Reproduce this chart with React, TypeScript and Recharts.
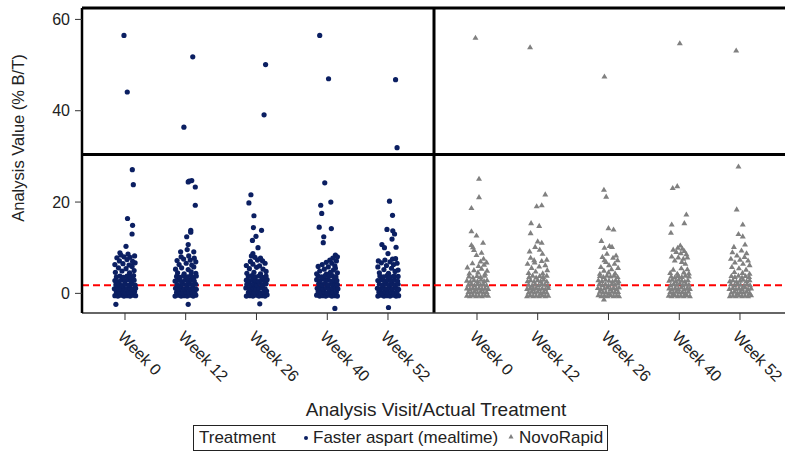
import { ReferenceLine, Scatter, ScatterChart, XAxis, YAxis } from "recharts";

// visits and labels
const weeks = [0, 12, 26, 40, 52];
const weekLabels = ["Week 0", "Week 12", "Week 26", "Week 40", "Week 52"];
const yTicks = [0, 20, 40, 60];
const lloqLine = 1.8;
const panelBreak = 30.4;

// [jitter (weeks), value (% B/T)] per visit, Faster aspart
const fa0 = [
  [-0.2, 56.5], [0.45, 44.1], [1.45, 27.1], [1.65, 23.8], [0.5, 16.4], [1.5, 14.9], [1.4, 13.0], [0.2, 10.3], [-1.0, 8.9], [-1.8, -2.4],
  [-1.9, 4.6], [-0.6, 4.9], [0.9, 4.5], [1.8, 5.0], [-1.3, 5.6], [0.2, 5.4], [1.4, 5.9], [-2.0, 6.3], [-0.4, 6.5], [0.8, 6.2],
  [2.0, 6.7], [-1.1, 7.1], [0.4, 7.4], [1.5, 7.0], [-1.6, 7.8], [-0.2, 8.0], [1.0, 7.9], [1.9, 8.2], [-0.8, 8.4], [0.6, 8.6],
  [-2.0, -0.5], [-1.4, -0.6], [-0.8, -0.4], [-0.2, -0.6], [0.4, -0.5], [1.0, -0.6], [1.6, -0.4], [2.1, -0.5],
  [-1.7, 0.3], [-1.1, 0.2], [-0.5, 0.4], [0.1, 0.1], [0.7, 0.3], [1.3, 0.2], [1.9, 0.4],
  [-2.1, 1.0], [-1.4, 1.2], [-0.8, 0.9], [-0.2, 1.1], [0.4, 1.0], [1.0, 1.2], [1.6, 0.9], [2.1, 1.1],
  [-1.8, 1.9], [-1.1, 2.0], [-0.5, 1.7], [0.1, 2.0], [0.8, 1.8], [1.4, 2.1], [2.0, 1.8],
  [-2.0, 2.8], [-1.4, 2.6], [-0.7, 2.9], [0.0, 2.7], [0.6, 3.0], [1.2, 2.7], [1.8, 2.9],
  [-1.7, 3.6], [-1.0, 3.8], [-0.3, 3.5], [0.4, 3.8], [1.1, 3.6], [1.7, 3.9],
];
const fa12 = [
  [-0.35, 36.4], [1.4, 51.8], [0.7, 24.6], [1.2, 24.7], [0.5, 24.4], [1.9, 23.3], [1.9, 19.3], [1.0, 13.8], [1.0, 13.4], [0.2, 12.4],
  [0.5, 10.7], [0.3, 9.6], [-1.0, 9.1], [1.6, 9.1], [0.5, -2.4],
  [-1.6, 4.5], [-0.3, 4.3], [1.1, 4.7], [2.0, 4.4], [-2.0, 5.3], [-0.8, 5.6], [0.5, 5.2], [1.6, 5.8], [-1.3, 6.3], [0.1, 6.6],
  [1.2, 6.2], [2.0, 6.9], [-1.7, 7.2], [-0.4, 7.5], [0.9, 7.3], [1.7, 7.7], [-0.9, 8.0], [0.6, 8.2],
  [-2.1, -0.6], [-1.5, -0.4], [-0.9, -0.6], [-0.3, -0.5], [0.3, -0.6], [0.9, -0.4], [1.5, -0.6], [2.0, -0.4],
  [-1.8, 0.2], [-1.2, 0.4], [-0.6, 0.1], [0.0, 0.3], [0.6, 0.2], [1.2, 0.4], [1.8, 0.1],
  [-2.0, 1.1], [-1.5, 0.9], [-0.9, 1.2], [-0.3, 0.9], [0.3, 1.2], [0.9, 1.0], [1.5, 1.1], [2.1, 0.9],
  [-1.7, 1.9], [-1.1, 1.7], [-0.5, 2.0], [0.2, 1.8], [0.8, 2.1], [1.4, 1.8], [2.0, 2.0],
  [-2.1, 2.7], [-1.4, 2.9], [-0.8, 2.6], [-0.1, 2.9], [0.5, 2.7], [1.1, 3.0], [1.7, 2.7],
  [-1.8, 3.7], [-1.1, 3.5], [-0.4, 3.9], [0.3, 3.6], [1.0, 3.9], [1.6, 3.5], [2.1, 3.8],
];
const fa26 = [
  [1.8, 50.1], [1.5, 39.1], [-1.1, 21.6], [-1.5, 19.8], [-0.5, 17.0], [-0.6, 14.4], [1.0, 13.8], [-0.1, 12.5], [-0.8, 11.6], [0.3, 10.0],
  [-0.7, 8.7], [-1.0, 8.2], [0.65, -2.3],
  [-1.9, 4.4], [-0.5, 4.6], [0.8, 4.3], [1.9, 4.8], [-1.4, 5.4], [0.0, 5.7], [1.3, 5.3], [-2.0, 6.1], [-0.7, 6.4], [0.6, 6.0],
  [1.7, 6.6], [-1.2, 7.0], [0.2, 7.3], [1.2, 7.1], [-0.3, 7.9], [0.8, 7.7],
  [-2.0, -0.6], [-1.3, -0.5], [-0.7, -0.6], [-0.1, -0.4], [0.5, -0.6], [1.1, -0.5], [1.7, -0.6], [2.1, -0.3],
  [-1.6, 0.2], [-1.0, 0.4], [-0.4, 0.2], [0.2, 0.4], [0.8, 0.1], [1.4, 0.3], [2.0, 0.5],
  [-2.1, 1.2], [-1.3, 1.0], [-0.7, 1.3], [-0.1, 0.9], [0.5, 1.1], [1.1, 1.3], [1.7, 1.0],
  [-1.9, 2.0], [-1.2, 1.8], [-0.6, 2.1], [0.0, 1.9], [0.6, 2.2], [1.2, 1.8], [1.9, 2.1],
  [-2.0, 2.9], [-1.4, 2.7], [-0.8, 3.0], [-0.2, 2.8], [0.4, 2.6], [1.0, 2.9], [1.6, 2.7], [2.1, 3.0],
  [-1.6, 3.7], [-0.9, 3.9], [-0.2, 3.6], [0.5, 3.8], [1.2, 3.5], [1.9, 3.8],
];
const fa40 = [
  [-1.5, 56.5], [0.25, 47.0], [-0.5, 24.2], [-1.3, 19.3], [0.7, 20.0], [-1.1, 17.5], [-1.6, 14.5], [0.8, 14.2], [-0.7, 12.4], [-0.8, 11.1],
  [1.5, -3.3],
  [1.6, 8.4], [2.0, 8.0], [1.1, 7.7], [0.5, 7.3], [1.8, 7.1], [-0.2, 6.8], [0.9, 6.6], [-1.0, 6.3], [1.5, 6.0], [-1.8, 5.9],
  [0.2, 5.8], [-0.6, 5.3], [1.2, 5.1], [-1.5, 4.9], [0.6, 4.6], [2.0, 4.5], [-2.1, 4.3], [-0.2, 4.2], [1.6, 5.5],
  [-2.1, -0.4], [-1.5, -0.6], [-0.9, -0.5], [-0.3, -0.6], [0.3, -0.4], [0.9, -0.6], [1.5, -0.5], [2.0, -0.6],
  [-1.8, 0.4], [-1.2, 0.2], [-0.6, 0.3], [0.0, 0.1], [0.6, 0.4], [1.2, 0.2], [1.8, 0.3],
  [-2.0, 1.1], [-1.4, 1.3], [-0.8, 1.0], [-0.2, 1.2], [0.4, 0.9], [1.0, 1.1], [1.6, 1.3], [2.1, 1.0],
  [-1.7, 2.1], [-1.0, 1.9], [-0.4, 2.2], [0.2, 1.8], [0.9, 2.0], [1.5, 2.2], [2.0, 1.9],
  [-2.1, 3.0], [-1.4, 2.8], [-0.6, 3.1], [0.1, 2.9], [0.8, 2.7], [1.4, 3.0], [1.9, 2.8],
  [-1.8, 3.8], [-1.1, 3.6], [-0.4, 3.9], [0.3, 3.7], [1.0, 3.9], [1.7, 3.6],
];
const fa52 = [
  [1.5, 46.8], [1.8, 31.9], [0.3, 20.2], [0.9, 17.1], [-0.2, 14.0], [0.95, 13.7], [1.3, 13.0], [0.8, 11.9], [-1.2, 10.7], [-0.7, 10.0],
  [1.6, 10.1], [0.0, 8.7], [0.1, -3.1],
  [-1.7, 4.5], [0.1, 4.4], [1.4, 4.8], [-0.8, 5.2], [0.7, 5.5], [2.0, 5.1], [-2.0, 5.8], [-0.3, 6.1], [1.1, 6.3], [-1.3, 6.7],
  [0.4, 6.9], [1.8, 6.6], [-0.6, 7.3], [0.9, 7.5], [-1.9, 7.1], [1.5, 7.6],
  [-2.0, -0.6], [-1.4, -0.4], [-0.8, -0.6], [-0.2, -0.5], [0.4, -0.6], [1.0, -0.4], [1.6, -0.6], [2.1, -0.5],
  [-1.8, 0.3], [-1.2, 0.1], [-0.6, 0.4], [0.0, 0.2], [0.6, 0.3], [1.2, 0.1], [1.8, 0.4],
  [-2.1, 1.1], [-1.5, 0.9], [-0.9, 1.2], [-0.3, 1.0], [0.3, 1.3], [0.9, 1.0], [1.5, 1.2], [2.1, 0.9],
  [-1.7, 2.0], [-1.1, 1.8], [-0.4, 2.1], [0.2, 1.9], [0.8, 2.1], [1.4, 1.8], [2.0, 2.0],
  [-2.0, 2.8], [-1.3, 3.0], [-0.7, 2.7], [0.0, 3.0], [0.6, 2.8], [1.3, 2.9], [1.9, 2.7],
  [-1.6, 3.8], [-0.9, 3.6], [-0.2, 3.9], [0.5, 3.6], [1.2, 3.8], [2.0, 3.7],
];

// NovoRapid
const nr0 = [
  [-0.3, 56.0], [0.4, 25.1], [0.4, 21.1], [-1.1, 18.7], [-1.1, 13.6], [-0.1, 12.7], [1.2, 11.1], [-1.1, 10.6], [-0.8, 10.1], [-0.6, 9.5],
  [-0.1, 8.4], [1.3, 7.6], [0.9, 8.9],
  [-1.5, 4.4], [0.2, 4.6], [1.6, 4.3], [-0.6, 5.1], [0.9, 5.4], [2.0, 5.0], [-1.9, 5.7], [0.3, 6.0], [1.4, 6.3], [-0.9, 6.6],
  [0.7, 7.0], [1.9, 6.8],
  [-2.0, -0.5], [-1.4, -0.6], [-0.8, -0.4], [-0.2, -0.6], [0.4, -0.5], [1.0, -0.6], [1.6, -0.4], [2.2, -0.5],
  [-1.7, 0.3], [-1.1, 0.2], [-0.5, 0.4], [0.1, 0.2], [0.7, 0.4], [1.3, 0.2], [1.9, 0.3],
  [-2.0, 1.1], [-1.4, 1.0], [-0.8, 1.2], [-0.2, 1.0], [0.4, 1.2], [1.0, 1.0], [1.6, 1.1], [2.2, 1.0],
  [-1.7, 1.9], [-1.1, 2.0], [-0.5, 1.8], [0.1, 2.1], [0.7, 1.9], [1.3, 2.0], [1.9, 1.8],
  [-2.0, 2.8], [-1.3, 2.6], [-0.6, 2.9], [0.1, 2.7], [0.8, 3.0], [1.4, 2.7], [2.0, 2.9],
  [-1.6, 3.7], [-0.8, 3.5], [0.0, 3.8], [0.7, 3.6], [1.5, 3.9],
];
const nr12 = [
  [-1.5, 53.9], [1.5, 21.7], [-0.2, 19.1], [0.8, 19.3], [-1.3, 15.4], [0.3, 14.8], [-1.4, 13.2], [0.0, 11.4], [0.8, 11.1], [-0.5, 10.2],
  [-1.6, 9.2], [0.95, 8.7], [-0.7, 7.3], [0.4, 9.6],
  [-1.8, 4.5], [-0.4, 4.8], [1.0, 4.4], [1.9, 5.1], [-1.2, 5.6], [0.3, 5.9], [1.5, 6.2], [-2.0, 6.5], [-0.6, 6.8], [0.8, 7.1],
  [1.8, 7.4], [-1.4, 7.8],
  [-2.1, -0.6], [-1.5, -0.4], [-0.9, -0.6], [-0.3, -0.5], [0.3, -0.6], [0.9, -0.4], [1.5, -0.6], [2.1, -0.5],
  [-1.8, 0.2], [-1.2, 0.4], [-0.6, 0.2], [0.0, 0.4], [0.6, 0.1], [1.2, 0.3], [1.8, 0.2],
  [-2.1, 1.0], [-1.5, 1.2], [-0.9, 1.0], [-0.3, 1.2], [0.3, 0.9], [0.9, 1.1], [1.5, 0.9], [2.1, 1.2],
  [-1.8, 1.9], [-1.1, 1.7], [-0.5, 2.0], [0.2, 1.8], [0.8, 2.1], [1.4, 1.9], [2.0, 1.7],
  [-2.0, 2.7], [-1.4, 2.9], [-0.7, 2.6], [0.0, 2.9], [0.6, 2.7], [1.2, 3.0], [1.8, 2.6],
  [-1.7, 3.6], [-1.0, 3.9], [-0.3, 3.5], [0.4, 3.8], [1.1, 3.6], [1.8, 3.9],
];
const nr26 = [
  [-0.8, 47.5], [-0.9, 22.7], [-0.45, 21.2], [0.0, 14.3], [1.0, 14.0], [-1.4, 11.5], [0.2, 10.4], [0.7, 10.2], [-0.8, 10.0], [-0.3, 8.7],
  [-0.8, 7.3], [1.8, 7.3], [-0.9, -1.3],
  [-1.7, 4.3], [0.0, 4.6], [1.3, 4.4], [-0.9, 5.0], [0.6, 5.3], [1.9, 5.6], [-1.5, 5.8], [0.1, 6.2], [1.2, 6.5], [-0.5, 6.9],
  [0.9, 7.8], [1.5, 8.3], [-1.2, 8.0],
  [-2.0, -0.4], [-1.4, -0.6], [-0.8, -0.5], [-0.2, -0.6], [0.4, -0.4], [1.0, -0.6], [1.6, -0.5], [2.1, -0.6],
  [-1.7, 0.4], [-1.1, 0.2], [-0.5, 0.3], [0.1, 0.1], [0.7, 0.4], [1.3, 0.2], [1.9, 0.3],
  [-2.1, 1.2], [-1.5, 0.9], [-0.8, 1.1], [-0.2, 1.3], [0.4, 1.0], [1.0, 1.2], [1.6, 1.0], [2.1, 1.3],
  [-1.8, 2.1], [-1.2, 1.8], [-0.6, 2.0], [0.0, 1.8], [0.7, 2.1], [1.3, 1.9], [1.9, 2.2],
  [-2.0, 2.9], [-1.3, 2.7], [-0.6, 3.0], [0.1, 2.8], [0.8, 2.6], [1.4, 2.9], [2.0, 2.7],
  [-1.7, 3.8], [-1.0, 3.6], [-0.3, 3.9], [0.4, 3.7], [1.1, 3.9], [1.8, 3.6],
];
const nr40 = [
  [0.1, 54.8], [-1.3, 23.1], [-0.4, 23.5], [1.4, 17.3], [-1.5, 15.1], [1.0, 15.4], [-1.65, 13.3],
  [0.2, 10.5], [-0.3, 10.0], [0.6, 9.8], [-1.2, 9.6], [1.0, 9.3], [-0.6, 9.1], [0.3, 8.8], [1.4, 8.6], [-1.5, 8.1],
  [-0.2, 7.9], [0.8, 7.6], [1.6, 7.9], [-0.9, 7.2], [0.5, 6.9], [1.2, 6.5],
  [-1.8, 4.5], [-0.4, 4.3], [0.9, 4.6], [1.9, 4.4], [-1.2, 5.2], [0.4, 5.5], [1.6, 5.3], [-0.2, 3.9],
  [-2.1, -0.5], [-1.5, -0.6], [-0.9, -0.4], [-0.3, -0.6], [0.3, -0.5], [0.9, -0.6], [1.5, -0.4], [2.1, -0.6],
  [-1.8, 0.3], [-1.2, 0.1], [-0.6, 0.4], [0.0, 0.2], [0.6, 0.3], [1.2, 0.1], [1.8, 0.4],
  [-2.0, 1.1], [-1.4, 0.9], [-0.8, 1.2], [-0.2, 1.0], [0.4, 1.3], [1.0, 0.9], [1.6, 1.2], [2.1, 1.0],
  [-1.7, 1.8], [-1.1, 2.1], [-0.5, 1.9], [0.1, 2.2], [0.7, 1.8], [1.3, 2.0], [1.9, 1.9],
  [-2.0, 2.8], [-1.4, 3.0], [-0.7, 2.7], [-0.1, 3.0], [0.5, 2.8], [1.1, 2.6], [1.7, 2.9],
  [-1.6, 3.7], [-0.9, 3.5], [-0.2, 3.8], [0.5, 3.6], [1.2, 3.9], [1.9, 3.7],
];
const nr52 = [
  [-0.75, 53.2], [-0.3, 27.8], [-0.65, 18.4], [0.55, 15.1], [-0.3, 13.0], [0.55, 12.5], [-1.2, 10.2], [1.0, 10.7],
  [-1.5, 9.0], [0.3, 9.4], [1.3, 8.8], [-0.6, 8.3], [0.9, 8.0], [-1.8, 7.6], [0.0, 7.4], [1.6, 7.2], [-1.0, 6.8],
  [0.6, 6.5], [1.9, 6.2], [-1.6, 5.8], [-0.2, 5.5], [1.2, 5.2], [-1.1, 4.7], [0.5, 4.5], [1.9, 4.3],
  [-2.0, -0.6], [-1.4, -0.5], [-0.8, -0.6], [-0.2, -0.4], [0.4, -0.6], [1.0, -0.5], [1.6, -0.6], [2.2, -0.4],
  [-1.7, 0.2], [-1.1, 0.4], [-0.5, 0.1], [0.1, 0.3], [0.7, 0.2], [1.3, 0.4], [1.9, 0.1],
  [-2.1, 1.0], [-1.4, 1.2], [-0.8, 0.9], [-0.2, 1.1], [0.4, 1.0], [1.0, 1.3], [1.6, 0.9], [2.2, 1.1],
  [-1.8, 2.0], [-1.1, 1.8], [-0.5, 2.1], [0.1, 1.9], [0.8, 1.7], [1.4, 2.0], [2.0, 1.8],
  [-2.0, 2.7], [-1.4, 2.9], [-0.7, 2.6], [0.0, 2.8], [0.6, 3.0], [1.3, 2.7], [1.9, 2.9],
  [-1.7, 3.8], [-1.0, 3.6], [-0.3, 3.9], [0.4, 3.5], [1.1, 3.8], [1.8, 3.6],
];

const NAVY = "#0b1f62";
const GREY = "#808080";
const FONT = "'Liberation Sans', Arial, sans-serif";
const X_DOMAIN = [-8.5, 61.1];
const Y_DOMAIN = [-4.3, 62.5];

const toPoints = (groups: number[][][]) =>
  groups.flatMap((g, i) => g.map(([j, v]) => ({ x: weeks[i] + j, y: v })));

const fasterAspart = toPoints([fa0, fa12, fa26, fa40, fa52]);
const novoRapid = toPoints([nr0, nr12, nr26, nr40, nr52]);

const Dot = (p: any) => <circle cx={p.cx} cy={p.cy} r={2.6} fill={NAVY} />;
const Tri = (p: any) => (
  <path d={`M${p.cx},${p.cy - 3}L${p.cx + 3},${p.cy + 2.1}L${p.cx - 3},${p.cy + 2.1}Z`} fill={GREY} />
);

const WeekTick = ({ x, y, payload }: any) => (
  <g transform={`translate(${x},${y})`}>
    <text x={7} y={18} transform="rotate(46)" fontSize={16} fill="#222" fontFamily={FONT}>
      {weekLabels[weeks.indexOf(payload.value)]}
    </text>
  </g>
);

function Panel({ data, shape, first }: { data: any[]; shape: any; first: boolean }) {
  return (
    <ScatterChart
      width={first ? 436 : 352}
      height={400}
      margin={{ top: 8, right: first ? 2 : 0, bottom: 0, left: 0 }}
    >
      <XAxis
        type="number"
        dataKey="x"
        domain={X_DOMAIN}
        ticks={weeks}
        allowDataOverflow
        height={87}
        tickSize={7}
        tickMargin={0}
        axisLine={{ stroke: "#333", strokeWidth: 1.5 }}
        tickLine={{ stroke: "#333" }}
        tick={<WeekTick />}
      />
      <YAxis
        type="number"
        dataKey="y"
        domain={Y_DOMAIN}
        ticks={yTicks}
        allowDataOverflow
        hide={!first}
        width={82}
        tickSize={7}
        tickMargin={5}
        axisLine={{ stroke: "#000", strokeWidth: 2.5 }}
        tickLine={{ stroke: "#333" }}
        tick={{ fill: "#222", fontSize: 16, fontFamily: FONT }}
      />
      <Scatter data={data} shape={shape} isAnimationActive={false} />
      <ReferenceLine y={lloqLine} stroke="#ff0000" strokeWidth={2} strokeDasharray="7 4" />
      <ReferenceLine y={panelBreak} stroke="#000" strokeWidth={3} />
      <ReferenceLine y={Y_DOMAIN[1]} stroke="#000" strokeWidth={3} />
      {first && <ReferenceLine x={X_DOMAIN[1]} stroke="#000" strokeWidth={3} />}
    </ScatterChart>
  );
}

export default function App() {
  return (
    <div
      style={{
        position: "absolute",
        left: 0,
        top: 0,
        width: 785,
        height: 452,
        overflow: "hidden",
        background: "#fff",
        fontFamily: FONT,
        color: "#222",
      }}
    >
      <div style={{ position: "absolute", left: 0, top: 0 }}>
        <Panel data={fasterAspart} shape={Dot} first />
      </div>
      <div style={{ position: "absolute", left: 434, top: 0 }}>
        <Panel data={novoRapid} shape={Tri} first={false} />
      </div>
      <div
        style={{
          position: "absolute",
          left: 18 - 110,
          top: 138 - 11,
          width: 220,
          height: 22,
          lineHeight: "22px",
          textAlign: "center",
          fontSize: 16.5,
          transform: "rotate(-90deg)",
          whiteSpace: "nowrap",
        }}
      >
        Analysis Value (% B/T)
      </div>
      <div
        style={{
          position: "absolute",
          left: 236,
          top: 399,
          width: 400,
          textAlign: "center",
          fontSize: 19,
          lineHeight: "22px",
          whiteSpace: "nowrap",
        }}
      >
        Analysis Visit/Actual Treatment
      </div>
      <div
        style={{
          position: "absolute",
          left: 193,
          top: 425,
          width: 415,
          height: 26,
          border: "1.5px solid #222",
          boxSizing: "border-box",
          fontSize: 17,
          lineHeight: "23px",
          whiteSpace: "nowrap",
        }}
      >
        <span style={{ position: "absolute", left: 5 }}>Treatment</span>
        <svg style={{ position: "absolute", left: 108, top: 8 }} width={8} height={8}>
          <circle cx={4} cy={4} r={2} fill={NAVY} />
        </svg>
        <span style={{ position: "absolute", left: 119 }}>Faster aspart (mealtime)</span>
        <svg style={{ position: "absolute", left: 313, top: 7 }} width={8} height={8}>
          <path d="M4,1L6.5,5.5L1.5,5.5Z" fill={GREY} />
        </svg>
        <span style={{ position: "absolute", left: 325 }}>NovoRapid</span>
      </div>
    </div>
  );
}
